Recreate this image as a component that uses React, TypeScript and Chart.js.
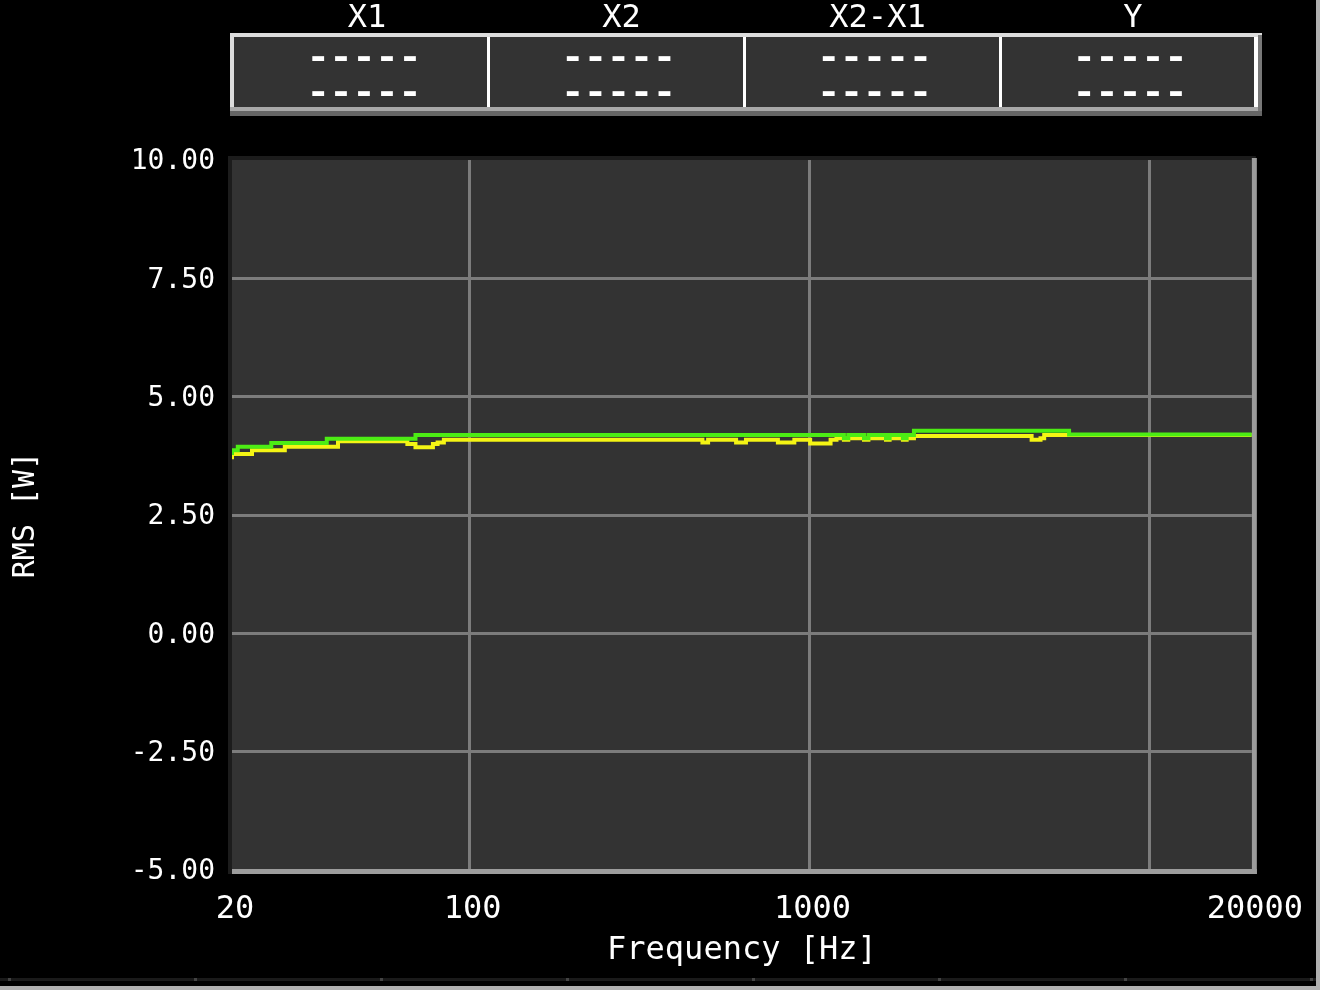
import React, { useEffect, useRef } from "react";
import { Chart, registerables } from "chart.js";

Chart.register(...registerables);

// ---- data ----
const headerLabels = ["X1", "X2", "X2-X1", "Y"];
const cellRows = ["-----", "-----"];
const xTickValues = [20, 100, 1000, 10000, 20000];
const xTickLabels = ["20", "100", "1000", "", "20000"];
const yTickValues = [-5, -2.5, 0, 2.5, 5, 7.5, 10];
const xTitle = "Frequency [Hz]";
const yTitle = "RMS [W]";

const greenFreq = [20, 20.8, 26.1, 38, 69.3, 1262, 1300, 1446, 1490, 1678, 1720, 1882, 1930, 2028, 5800, 18400, 20000];
const greenRms = [3.77, 3.87, 3.94, 4.02, 4.11, 4.19, 4.12, 4.19, 4.12, 4.19, 4.12, 4.19, 4.12, 4.19, 4.28, 4.2, 4.2];

const yellowFreq = [20, 22.9, 28.6, 41, 65.6, 69.3, 78, 80.5, 84, 484, 503, 608, 650, 807, 902, 1004, 1153, 1200, 1262, 1300, 1446, 1490, 1678, 1720, 1882, 1930, 2028, 4500, 4780, 4900, 5800, 18400, 20000];
const yellowRms = [3.68, 3.79, 3.87, 3.94, 4.06, 4.0, 3.93, 4.0, 4.03, 4.09, 4.03, 4.09, 4.03, 4.09, 4.03, 4.09, 4.01, 4.09, 4.12, 4.09, 4.12, 4.09, 4.12, 4.09, 4.12, 4.09, 4.12, 4.17, 4.09, 4.12, 4.19, 4.19, 4.19];

const GREEN = "#4cec14";
const YELLOW = "#f4f414";
const MONO = '"DejaVu Sans Mono", monospace';

const framePlugin = {
  id: "frame",
  beforeDraw(chart: any) {
    const { ctx, chartArea: a, width, height } = chart;
    ctx.save();
    ctx.fillStyle = "#000";
    ctx.fillRect(0, 0, width, height);
    ctx.fillStyle = "#333333";
    ctx.fillRect(a.left, a.top, a.right - a.left, a.bottom - a.top);
    ctx.restore();
  },
  afterDraw(chart: any) {
    const { ctx, chartArea: a } = chart;
    ctx.save();
    // plot bevel frame
    ctx.fillStyle = "#1c1c1c";
    ctx.fillRect(a.left - 4, a.top - 4, a.right - a.left + 8, 4);
    ctx.fillRect(a.left - 4, a.top - 4, 4, a.bottom - a.top + 8);
    ctx.fillStyle = "#9c9c9c";
    ctx.fillRect(a.left, a.bottom - 1, a.right - a.left + 5, 5);
    ctx.fillRect(a.right, a.top - 2, 5, a.bottom - a.top + 6);

    // table
    const tl = 230, tr = 1262, tt = 33, tb = 116;
    ctx.fillStyle = "#333333";
    ctx.fillRect(tl, tt, tr - tl, tb - tt);
    ctx.fillStyle = "#dcdcdc";
    ctx.fillRect(tl, tt, tr - tl, 4);
    ctx.fillRect(tl, tt, 4, 78);
    ctx.fillStyle = "#ffffff";
    ctx.fillRect(1254, 37, 4, 70);
    ctx.fillStyle = "#787878";
    ctx.fillRect(1258, 35, 4, tb - 35);
    ctx.fillStyle = "#a8a8a8";
    ctx.fillRect(tl, 107, 1028, 4);
    ctx.fillStyle = "#666666";
    ctx.fillRect(tl, 111, tr - tl, 5);
    const divs = [487, 743, 999];
    ctx.fillStyle = "#ffffff";
    divs.forEach((d) => ctx.fillRect(d, 37, 3, 70));
    const bounds = [234, 487, 743, 999, 1254];
    ctx.textAlign = "center";
    ctx.textBaseline = "middle";
    for (let i = 0; i < headerLabels.length; i++) {
      const cx = (bounds[i] + bounds[i + 1] + 3) / 2;
      ctx.fillStyle = "#ffffff";
      ctx.font = `32px ${MONO}`;
      ctx.fillText(headerLabels[i], cx + 5, 19);
      ctx.font = `bold 34px ${MONO}`;
      cellRows.forEach((r, j) => {
        ctx.save();
        ctx.translate(cx + 2, j === 0 ? 59 : 94);
        ctx.scale(1.12, 1);
        ctx.fillText(r, 0, 0);
        ctx.restore();
      });
    }

    // bottom strips
    ctx.fillStyle = "#1a1a1a";
    ctx.fillRect(0, 978, 1316, 3);
    ctx.fillStyle = "#444";
    for (let x = 8; x < 1316; x += 186) ctx.fillRect(x, 978, 3, 3);
    ctx.fillStyle = "#b0b0b0";
    ctx.fillRect(0, 986, 1320, 4);
    ctx.fillRect(1316, 0, 4, 990);
    ctx.restore();
  },
};

export default function App() {
  const ref = useRef<HTMLCanvasElement>(null);
  useEffect(() => {
    document.body.style.margin = "0";
    document.body.style.background = "#000";
    const canvas = ref.current!;
    const chart = new Chart(canvas, {
      type: "line",
      data: {
        datasets: [
          {
            label: "green",
            data: greenFreq.map((f, i) => ({ x: f, y: greenRms[i] })),
            borderColor: GREEN,
            borderWidth: 4,
            stepped: "after",
            pointRadius: 0,
            fill: false,
            borderCapStyle: "butt",
            borderJoinStyle: "miter",
          },
          {
            label: "yellow",
            data: yellowFreq.map((f, i) => ({ x: f, y: yellowRms[i] })),
            borderColor: YELLOW,
            borderWidth: 4,
            stepped: "after",
            pointRadius: 0,
            fill: false,
            borderCapStyle: "butt",
            borderJoinStyle: "miter",
          },
        ],
      },
      options: {
        animation: false,
        responsive: false,
        maintainAspectRatio: false,
        layout: { padding: { left: 0, top: 160, right: 67, bottom: 0 } },
        plugins: { legend: { display: false }, tooltip: { enabled: false } },
        scales: {
          x: {
            type: "logarithmic",
            min: 20,
            max: 20000,
            afterBuildTicks: (s: any) => {
              s.ticks = xTickValues.map((v) => ({ value: v }));
            },
            afterFit: (s: any) => {
              s.height = 120;
            },
            ticks: {
              autoSkip: false,
              maxRotation: 0,
              color: "#ffffff",
              font: { family: MONO, size: 32 },
              padding: 20,
              labelOffset: 3,
              callback: (_v: any, i: number) => xTickLabels[i],
            },
            grid: {
              color: (c: any) =>
                c.tick && (c.tick.value === 20 || c.tick.value === 20000) ? "rgba(0,0,0,0)" : "#7c7c7c",
              lineWidth: 3,
              drawTicks: false,
            },
            border: { display: false },
            title: {
              display: true,
              text: xTitle,
              color: "#ffffff",
              font: { family: MONO, size: 32 },
              padding: { top: 0, bottom: 20 },
            },
          },
          y: {
            min: -5,
            max: 10,
            afterBuildTicks: (s: any) => {
              s.ticks = yTickValues.map((v) => ({ value: v }));
            },
            afterFit: (s: any) => {
              s.width = 232;
            },
            ticks: {
              color: "#ffffff",
              font: { family: MONO, size: 28 },
              padding: 17,
              labelOffset: 2,
              callback: (v: any) => Number(v).toFixed(2),
            },
            grid: {
              color: (c: any) =>
                c.tick && (c.tick.value === -5 || c.tick.value === 10) ? "rgba(0,0,0,0)" : "#7c7c7c",
              lineWidth: 3,
              drawTicks: false,
            },
            border: { display: false },
            title: {
              display: true,
              text: yTitle,
              color: "#ffffff",
              font: { family: MONO, size: 30 },
              padding: { top: 8, bottom: 0 },
            },
          },
        },
      },
      plugins: [framePlugin],
    } as any);
    return () => chart.destroy();
  }, []);
  return (
    <div style={{ position: "fixed", left: 0, top: 0, width: 1320, height: 990, background: "#000" }}>
      <canvas ref={ref} width={1320} height={990} style={{ width: 1320, height: 990, display: "block" }} />
    </div>
  );
}
